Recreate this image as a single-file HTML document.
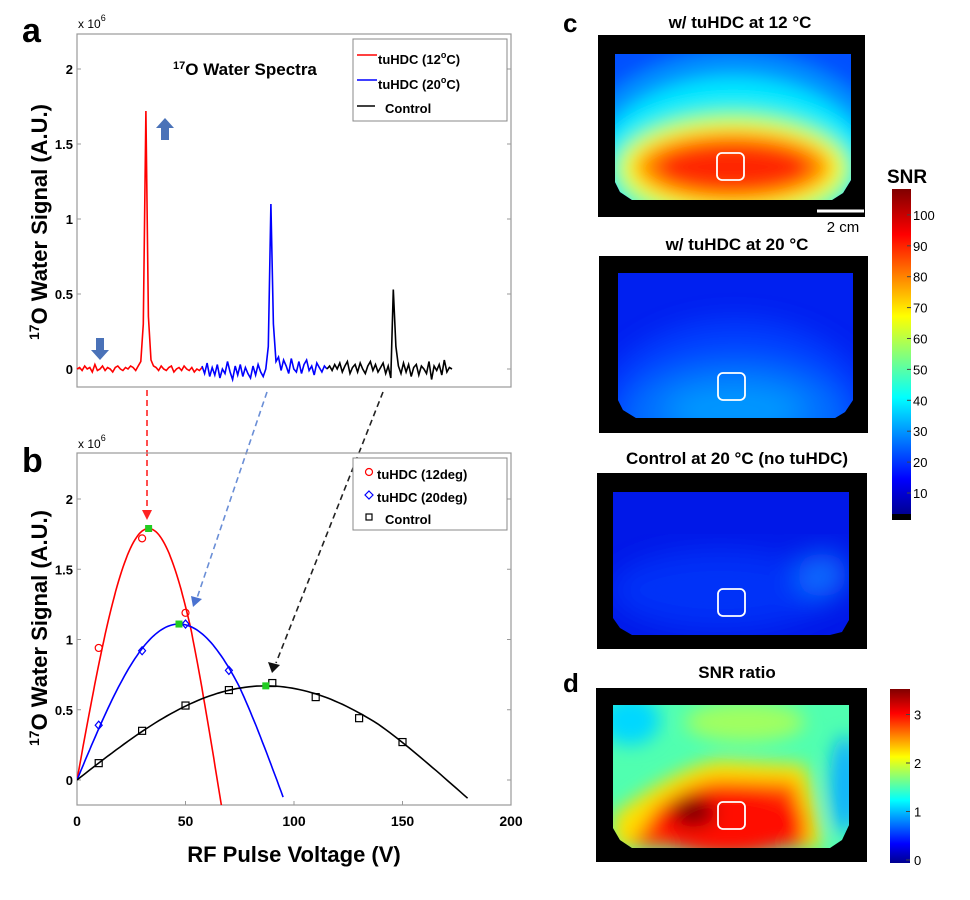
<!DOCTYPE html>
<html><head><meta charset="utf-8"><style>
html,body{margin:0;padding:0;background:#fff;}
svg{display:block;font-family:"Liberation Sans",sans-serif;}
</style></head><body>
<svg id="fig" width="970" height="900" viewBox="0 0 970 900" xmlns="http://www.w3.org/2000/svg">
<defs>
<linearGradient id="jet" x1="0" y1="1" x2="0" y2="0">
<stop offset="0" stop-color="#00008f"/><stop offset="0.11" stop-color="#0000ff"/><stop offset="0.36" stop-color="#00ffff"/><stop offset="0.61" stop-color="#ffff00"/><stop offset="0.86" stop-color="#ff0000"/><stop offset="1" stop-color="#800000"/>
</linearGradient>
<filter id="bl" x="-20%" y="-20%" width="140%" height="140%"><feGaussianBlur stdDeviation="9"/></filter>
<filter id="bl2" x="-20%" y="-20%" width="140%" height="140%"><feGaussianBlur stdDeviation="14"/></filter>
<clipPath id="c1"><polygon points="615,54 851,54 851,180 843,193 832,200 632,200 620,192 615,182"/></clipPath>
<clipPath id="c2"><polygon points="618,273 853,273 853,400 845,412 835,418 636,418 623,410 618,400"/></clipPath>
<clipPath id="c3"><polygon points="613,492 849,492 849,620 842,632 830,635 632,635 620,628 613,618"/></clipPath>
<clipPath id="c4"><polygon points="613,705 849,705 849,825 842,840 830,848 632,848 620,840 613,828"/></clipPath>
<clipPath id="pb"><rect x="77" y="453" width="434" height="352"/></clipPath>
</defs>

<!-- Panel a -->
<g>
<text x="22" y="42" font-size="34" font-weight="bold">a</text>
<text x="78" y="28" font-size="12">x 10<tspan dy="-7" font-size="9">6</tspan></text>
<rect x="77" y="34" width="434" height="353" fill="none" stroke="#999" stroke-width="1.2"/>
<g id="yticksA"></g>
<text x="173" y="75" font-size="17" font-weight="bold"><tspan font-size="11" dy="-6">17</tspan><tspan dy="6">O Water Spectra</tspan></text>
<g id="specA"></g>
<g font-weight="bold">
<rect x="353" y="39" width="154" height="82" fill="#fff" stroke="#888"/>
<line x1="357" y1="55" x2="377" y2="55" stroke="#f00" stroke-width="1.5"/><text x="378" y="64" font-size="13">tuHDC (12<tspan dy="-6" font-size="9">o</tspan><tspan dy="6">C)</tspan></text>
<line x1="357" y1="80" x2="377" y2="80" stroke="#00f" stroke-width="1.5"/><text x="378" y="89" font-size="13">tuHDC (20<tspan dy="-6" font-size="9">o</tspan><tspan dy="6">C)</tspan></text>
<line x1="357" y1="106" x2="375" y2="106" stroke="#000" stroke-width="1.5"/><text x="385" y="113" font-size="13">Control</text>
</g>
<g fill="#4a72b8">
<polygon points="165,118 174,128 169,128 169,140 161,140 161,128 156,128"/>
<polygon points="100,360 109,350 104,350 104,338 96,338 96,350 91,350"/>
</g>
</g>
<text transform="translate(47,222) rotate(-90)" text-anchor="middle" font-size="22" font-weight="bold"><tspan font-size="14" dy="-8">17</tspan><tspan dy="8">O Water Signal (A.U.)</tspan></text>

<!-- Dashed connectors -->
<g stroke-dasharray="6,4" stroke-width="1.6" fill="none">
<line x1="147" y1="390" x2="147" y2="510" stroke="#f22"/>
<line x1="267" y1="392" x2="197" y2="598" stroke="#6a8ed6"/>
<line x1="383" y1="392" x2="276" y2="663" stroke="#222"/>
</g>
<polygon points="142,510 152,510 147,520" fill="#f22"/>
<polygon points="191,596 202,599 193,607" fill="#4a72d0"/>
<polygon points="268,662 280,665 272,673" fill="#111"/>

<!-- Panel b -->
<g>
<text x="22" y="472" font-size="34" font-weight="bold">b</text>
<text x="78" y="448" font-size="12">x 10<tspan dy="-7" font-size="9">6</tspan></text>
<rect x="77" y="453" width="434" height="352" fill="none" stroke="#999" stroke-width="1.2"/>
<g id="axB"></g>
<g id="plotB" clip-path="url(#pb)"></g>
<g id="markB"></g>
<g font-weight="bold">
<rect x="353" y="458" width="154" height="72" fill="#fff" stroke="#888"/>
<circle cx="369" cy="472" r="3.5" fill="none" stroke="#f00" stroke-width="1.2"/><text x="377" y="479" font-size="13">tuHDC (12deg)</text>
<polygon points="369,491 373,495 369,499 365,495" fill="none" stroke="#00f" stroke-width="1.2"/><text x="377" y="502" font-size="13">tuHDC (20deg)</text>
<rect x="366" y="514" width="6" height="6" fill="none" stroke="#000" stroke-width="1.2"/><text x="385" y="524" font-size="13">Control</text>
</g>
<text x="294" y="862" text-anchor="middle" font-size="22" font-weight="bold">RF Pulse Voltage (V)</text>
</g>
<text transform="translate(47,628) rotate(-90)" text-anchor="middle" font-size="22" font-weight="bold"><tspan font-size="14" dy="-8">17</tspan><tspan dy="8">O Water Signal (A.U.)</tspan></text>

<!-- Panel c -->
<g>
<text x="563" y="32" font-size="26" font-weight="bold">c</text>
<text x="740" y="28" text-anchor="middle" font-size="17" font-weight="bold">w/ tuHDC at 12 °C</text>
<rect x="598" y="35" width="267" height="182" fill="#000"/>
<g clip-path="url(#c1)">
<rect x="600" y="50" width="260" height="160" fill="#0050ff"/>
<g filter="url(#bl)">
<ellipse cx="733" cy="175" rx="165" ry="125" fill="#0090ff"/>
<ellipse cx="733" cy="172" rx="140" ry="95" fill="#00e8ff"/>
<ellipse cx="733" cy="170" rx="122" ry="62" fill="#70ff90"/>
<ellipse cx="733" cy="168" rx="110" ry="46" fill="#ffff00"/>
<ellipse cx="733" cy="167" rx="98" ry="36" fill="#ff9000"/>
<ellipse cx="733" cy="167" rx="78" ry="24" fill="#ff2800"/>
</g></g>
<rect x="717" y="153" width="27" height="27" rx="5" fill="none" stroke="#fff" stroke-width="1.8"/>
<line x1="817" y1="211" x2="864" y2="211" stroke="#fff" stroke-width="3"/>
<text x="843" y="232" text-anchor="middle" font-size="15">2 cm</text>

<text x="737" y="250" text-anchor="middle" font-size="17" font-weight="bold">w/ tuHDC at 20 °C</text>
<rect x="599" y="256" width="269" height="177" fill="#000"/>
<g clip-path="url(#c2)">
<rect x="600" y="270" width="260" height="160" fill="#0020f0"/>
<g filter="url(#bl2)">
<ellipse cx="735" cy="420" rx="140" ry="100" fill="#0040ff"/>
<ellipse cx="735" cy="415" rx="110" ry="55" fill="#0070ff"/>
<ellipse cx="735" cy="410" rx="70" ry="25" fill="#0098ff"/>
</g></g>
<rect x="718" y="373" width="27" height="27" rx="5" fill="none" stroke="#fff" stroke-width="1.8"/>

<text x="737" y="464" text-anchor="middle" font-size="17" font-weight="bold">Control at 20 °C (no tuHDC)</text>
<rect x="597" y="473" width="270" height="176" fill="#000"/>
<g clip-path="url(#c3)">
<rect x="600" y="488" width="260" height="160" fill="#0018e8"/>
<g filter="url(#bl2)">
<ellipse cx="720" cy="590" rx="110" ry="40" fill="#0030f8"/>
<ellipse cx="822" cy="575" rx="25" ry="22" fill="#1070ff"/>
</g></g>
<rect x="718" y="589" width="27" height="27" rx="5" fill="none" stroke="#fff" stroke-width="1.8"/>

<g>
<text x="887" y="183" font-size="19" font-weight="bold">SNR</text>
<rect x="892" y="189" width="19" height="326" fill="url(#jet)"/>
<rect x="892" y="514" width="19" height="6" fill="#000"/>
<g id="cbC"></g>
</g>
</g>

<!-- Panel d -->
<g>
<text x="563" y="692" font-size="26" font-weight="bold">d</text>
<text x="737" y="678" text-anchor="middle" font-size="17" font-weight="bold">SNR ratio</text>
<rect x="596" y="688" width="271" height="174" fill="#000"/>
<g clip-path="url(#c4)">
<rect x="600" y="700" width="260" height="160" fill="#50ffb0"/>
<g filter="url(#bl)">
<ellipse cx="630" cy="720" rx="30" ry="25" fill="#00d8ff"/>
<ellipse cx="845" cy="785" rx="15" ry="50" fill="#10b0ff"/>
<ellipse cx="745" cy="722" rx="60" ry="20" fill="#a0ff60"/>
<path d="M613,815 Q680,765 720,760 L805,765 Q818,810 822,848 L613,848 Z" fill="#ffe000"/>
<path d="M630,848 Q660,790 715,780 L795,782 Q805,820 808,848 Z" fill="#ff5000"/>
<ellipse cx="728" cy="822" rx="78" ry="34" fill="#ff1000"/>
<ellipse cx="693" cy="812" rx="22" ry="15" fill="#800000"/>
</g></g>
<rect x="718" y="802" width="27" height="27" rx="5" fill="none" stroke="#fff" stroke-width="1.8"/>
<g>
<rect x="890" y="689" width="20" height="174" fill="url(#jet)"/>
<g id="cbD"></g>
</g>
</g>
</svg>
<script>
// ---- Panel a data ----
const redSpec = [0,0.01,-0.01,0.02,0,0.01,-0.02,0.03,-0.01,0,0.02,-0.01,0.01,0,-0.02,0.01,0.02,0,-0.01,0.01,0,0.02,0.01,-0.01,0.02,0.05,0.3,1.72,0.35,0.06,0.02,0.01,-0.01,0.02,0,-0.01,0.01,0.02,-0.02,0,0.01,-0.01,0.02,0,-0.01,0.01,-0.02,0,-0.01,0.01];
const blueSpec = [0.02,-0.03,0.04,-0.05,0.01,-0.04,0.03,-0.06,0,-0.03,0.05,-0.02,-0.07,0.02,-0.04,0.03,-0.05,0.01,-0.03,-0.06,0.02,-0.04,0.03,-0.02,-0.05,0,0.15,1.1,0.3,0.05,0.08,-0.01,0.06,0.02,-0.03,0.07,0,-0.02,0.05,-0.03,0.03,0.06,-0.01,0.02,-0.04,0.04,0.01,-0.02,0.02,0];
const blackSpec = [0,0.02,-0.01,0.03,0,0.04,-0.02,0.02,0.05,-0.03,0.01,0.03,-0.02,0.04,0,-0.03,0.02,0.05,-0.01,0.03,-0.02,0.01,0.04,-0.03,0.02,-0.06,0.53,0.15,0.02,-0.03,0.04,-0.02,0.03,-0.05,0.01,0.03,-0.04,0.02,0,-0.03,0.05,-0.07,0.02,-0.01,0.03,-0.04,0.06,-0.02,0.01,0];
const yTicksA = [0,0.5,1,1.5,2];
const yTickLabels = ["0","0.5","1","1.5","2"];
// ---- Panel b data ----
const xTicksB = [0,50,100,150,200];
const yTicksB = [0,0.5,1,1.5,2];
const redV = [10,30,50];
const redS = [0.94,1.72,1.19];
const blueV = [10,30,50,70];
const blueS = [0.39,0.92,1.11,0.78];
const blackV = [10,30,50,70,90,110,130,150];
const blackS = [0.12,0.35,0.53,0.64,0.69,0.59,0.44,0.27];
// fit parameters: [peak voltage, peak signal, end voltage]
const redFit = [33,1.79,68.5];
const blueFit = [47,1.11,95];
const blackFit = [87,0.67,180];
// colorbars
const snrTicks = [10,20,30,40,50,60,70,80,90,100];
const ratioTicks = [0,1,2,3];

const NS="http://www.w3.org/2000/svg";
function mk(tag,attrs,parent){const e=document.createElementNS(NS,tag);for(const k in attrs)e.setAttribute(k,attrs[k]);parent.appendChild(e);return e;}
const yA=v=>369-v*150;
const gA=document.getElementById('yticksA');
yTicksA.forEach((t,i)=>{
  mk('line',{x1:77,y1:yA(t),x2:81,y2:yA(t),stroke:'#999'},gA);
  mk('line',{x1:507,y1:yA(t),x2:511,y2:yA(t),stroke:'#999'},gA);
  const tx=mk('text',{x:73,y:yA(t)+5,'text-anchor':'end','font-size':13,'font-weight':'bold'},gA);
  tx.textContent=yTickLabels[i];
  
  
});
const specG=document.getElementById('specA');
[[redSpec,77,'#f00','spectrum-12c'],[blueSpec,202,'#00f','spectrum-20c'],[blackSpec,327,'#000','spectrum-control']].forEach(([d,x0,c,n])=>{
  const step=125/(d.length-1);
  const p=mk('polyline',{points:d.map((v,i)=>(x0+i*step).toFixed(1)+','+yA(v).toFixed(1)).join(' '),fill:'none',stroke:c,'stroke-width':1.6},specG);
  
  
});
const xB=v=>77+v*434/200;
const yB=v=>780-v*140.5;
const axB=document.getElementById('axB');
xTicksB.forEach(t=>{
  mk('line',{x1:xB(t),y1:805,x2:xB(t),y2:801,stroke:'#999'},axB);
  const tx=mk('text',{x:xB(t),y:826,'text-anchor':'middle','font-size':14,'font-weight':'bold'},axB);
  tx.textContent=String(t);
  
  
});
yTicksB.forEach((t,i)=>{
  mk('line',{x1:77,y1:yB(t),x2:81,y2:yB(t),stroke:'#999'},axB);
  mk('line',{x1:507,y1:yB(t),x2:511,y2:yB(t),stroke:'#999'},axB);
  const tx=mk('text',{x:73,y:yB(t)+5,'text-anchor':'end','font-size':13,'font-weight':'bold'},axB);
  tx.textContent=yTickLabels[i];
  
  
});
const plotB=document.getElementById('plotB');
[[redFit,'#f00','fit-12c'],[blueFit,'#00f','fit-20c'],[blackFit,'#000','fit-control']].forEach(([f,c,n])=>{
  const pts=[];
  for(let i=0;i<=100;i++){const v=f[2]*i/100;const s=Math.sin(Math.PI*v/(2*f[0]));pts.push(xB(v).toFixed(1)+','+yB(f[1]*(s<0.6&&v>f[0]?s-0.12*(0.6-s):s)).toFixed(1));}
  const p=mk('polyline',{points:pts.join(' '),fill:'none',stroke:c,'stroke-width':1.6},plotB);
  
  
});
const markB=document.getElementById('markB');
redV.forEach((v,i)=>{const e=mk('circle',{cx:xB(v),cy:yB(redS[i]),r:3.5,fill:'none',stroke:'#f00','stroke-width':1.2},markB);
  
  });
blueV.forEach((v,i)=>{const x=xB(v),y=yB(blueS[i]);const e=mk('polygon',{points:`${x},${y-4} ${x+3.5},${y} ${x},${y+4} ${x-3.5},${y}`,fill:'none',stroke:'#00f','stroke-width':1.2},markB);
  
  });
blackV.forEach((v,i)=>{const e=mk('rect',{x:xB(v)-3.5,y:yB(blackS[i])-3.5,width:7,height:7,fill:'none',stroke:'#000','stroke-width':1.2},markB);
  
  });
[redFit,blueFit,blackFit].forEach(f=>{const e=mk('rect',{x:xB(f[0])-3.5,y:yB(f[1])-3.5,width:7,height:7,fill:'#2c2'},markB);
  
  });
const cbC=document.getElementById('cbC');
snrTicks.forEach(t=>{const y=493-(t-10)*30.9/10;
  mk('line',{x1:907,y1:y,x2:911,y2:y,stroke:'#444'},cbC);
  const tx=mk('text',{x:913,y:y+5,'font-size':13},cbC);tx.textContent=String(t);
  
  });
const cbD=document.getElementById('cbD');
ratioTicks.forEach(t=>{const y=860-t*48.5;
  mk('line',{x1:906,y1:y,x2:910,y2:y,stroke:'#444'},cbD);
  const tx=mk('text',{x:914,y:y+5,'font-size':13},cbD);tx.textContent=String(t);
  
  });
</script>
</body></html>
